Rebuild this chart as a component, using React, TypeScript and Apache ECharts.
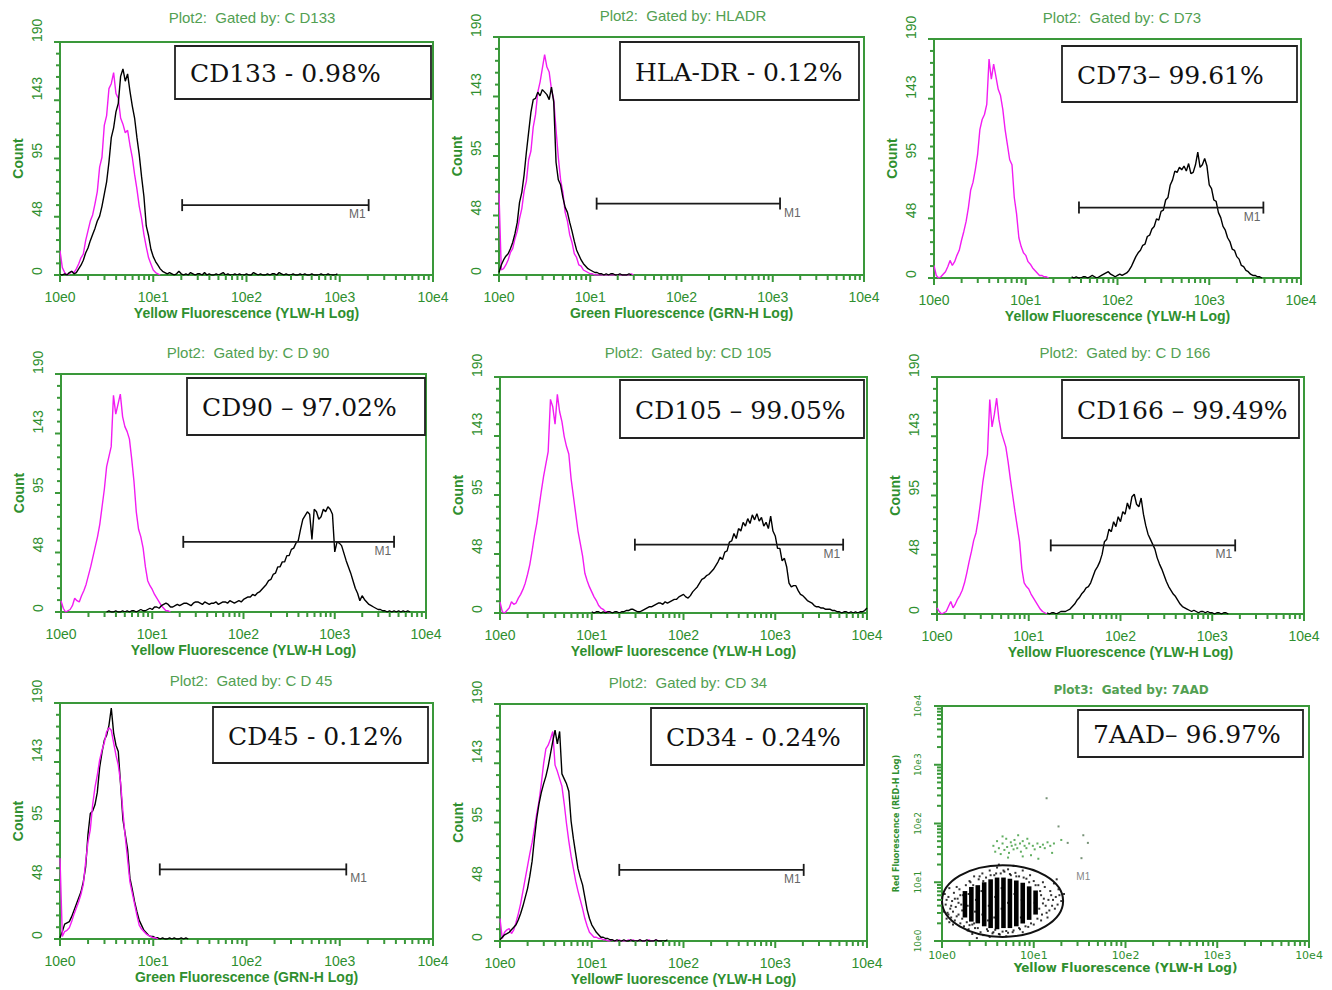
import React, { useEffect, useRef } from "react";
import * as echarts from "echarts";

// ---------- DATA ----------
const STEP = 0.025; // histogram channel width, in decades (log10 units)
const DECADE_LABELS = ["10e0", "10e1", "10e2", "10e3", "10e4"];

// CD133 panel
const cd133Start = 0;
const cd133Control = [20, 6, 2, 0, 1, 3, 2, 5, 9, 14, 17, 28, 36, 44, 49, 58, 68, 88, 96, 122, 130, 152, 156, 165, 148, 144, 128, 123, 116, 118, 106, 96, 82, 70, 56, 46, 33, 23, 14, 9, 4, 2, 1, 0];
const cd133Stained = [0, 0, 1, 0, 2, 3, 1, 2, 5, 8, 12, 18, 22, 28, 33, 38, 44, 48, 56, 66, 76, 92, 112, 120, 133, 140, 162, 168, 158, 164, 150, 138, 128, 112, 98, 80, 64, 40, 32, 21, 15, 11, 8, 5, 3, 2, 1, 2, 1, 0, 1, 3, 1, 0, 1, 0, 2, 1, 0, 1, 1, 0, 2, 0, 1, 0, 0, 1, 0, 1, 2, 0, 1, 0, 0, 1, 0, 1, 0, 0, 1, 0, 0, 2, 1, 0, 1, 0, 0, 1, 0, 1, 1, 0, 2, 1, 0, 1, 0, 0, 1, 0, 0, 1, 0, 1, 0, 0, 1, 0, 0, 0, 1, 0, 0, 1, 0, 0, 0, 1];

// HLA-DR panel
const hladrStart = 0;
const hladrControl = [65, 4, 5, 8, 12, 18, 21, 29, 35, 45, 53, 67, 75, 92, 99, 118, 128, 146, 154, 165, 176, 166, 162, 148, 140, 116, 94, 76, 66, 50, 43, 32, 26, 17, 14, 8, 7, 4, 3, 2, 1, 1, 0, 0, 0, 0, 0, 0, 0, 0, 0, 0, 0, 0, 0, 0, 0, 0, 1, 0];
const hladrStained = [2, 8, 12, 15, 17, 21, 26, 33, 42, 58, 66, 80, 98, 114, 130, 140, 141, 146, 143, 148, 146, 144, 140, 150, 138, 90, 76, 72, 62, 54, 50, 42, 35, 27, 20, 16, 12, 9, 7, 5, 4, 3, 2, 2, 1, 1, 0, 1, 0, 1, 1, 0, 0, 1, 0, 0, 0, 1, 0];

// CD73 panel
const cd73ControlStart = 0;
const cd73Control = [10, 2, 0, 1, 3, 5, 9, 14, 10, 13, 18, 22, 30, 37, 45, 56, 70, 76, 86, 98, 118, 126, 130, 138, 174, 158, 170, 160, 150, 145, 134, 118, 106, 94, 90, 64, 51, 32, 25, 20, 18, 13, 11, 8, 6, 4, 2, 2, 1, 1, 0];
const cd73StainedStart = 1.5;
const cd73Stained = [1, 0, 1, 0, 0, 1, 1, 0, 1, 2, 1, 0, 1, 2, 3, 4, 5, 3, 2, 1, 2, 3, 2, 3, 4, 6, 9, 13, 17, 20, 22, 26, 27, 33, 34, 39, 41, 47, 46, 53, 54, 62, 64, 74, 78, 85, 84, 88, 86, 89, 85, 91, 83, 84, 90, 100, 88, 90, 95, 89, 74, 71, 62, 61, 52, 48, 41, 38, 32, 29, 23, 22, 17, 15, 10, 9, 6, 5, 3, 2, 2, 1, 1, 0];

// CD90 panel
const cd90ControlStart = 0;
const cd90Control = [9, 3, 0, 1, 2, 5, 11, 9, 8, 13, 17, 22, 29, 36, 44, 52, 60, 70, 84, 98, 116, 124, 132, 173, 158, 166, 174, 156, 148, 144, 138, 122, 104, 80, 66, 60, 51, 36, 25, 21, 18, 14, 11, 8, 5, 3, 1, 1, 0];
const cd90StainedStart = 0.5;
const cd90Stained = [0, 1, 0, 0, 1, 0, 0, 1, 0, 1, 0, 1, 1, 0, 1, 2, 1, 1, 2, 3, 2, 4, 4, 3, 5, 6, 7, 6, 4, 4, 5, 6, 5, 6, 7, 7, 6, 5, 7, 8, 8, 7, 6, 8, 7, 6, 7, 7, 8, 6, 7, 8, 8, 7, 9, 8, 7, 8, 9, 8, 10, 11, 12, 12, 14, 13, 15, 16, 18, 20, 22, 25, 26, 30, 31, 36, 36, 40, 40, 45, 45, 50, 51, 55, 57, 66, 74, 77, 80, 78, 58, 82, 80, 74, 76, 82, 80, 84, 82, 78, 48, 56, 55, 53, 47, 41, 36, 31, 25, 19, 15, 9, 13, 10, 8, 6, 5, 4, 3, 2, 2, 1, 1, 0, 1, 0, 1, 0, 1, 0, 1, 0, 1, 0];

// CD105 panel
const cd105ControlStart = 0;
const cd105Control = [9, 1, 0, 2, 4, 9, 7, 8, 12, 15, 19, 24, 31, 39, 50, 62, 72, 85, 98, 110, 120, 130, 172, 166, 152, 176, 162, 154, 142, 134, 128, 108, 94, 80, 66, 56, 46, 32, 26, 21, 17, 13, 10, 6, 4, 3, 1, 1, 0];
const cd105StainedStart = 1.0;
const cd105Stained = [1, 0, 1, 1, 0, 1, 0, 1, 1, 0, 1, 1, 0, 1, 1, 2, 2, 3, 3, 2, 1, 1, 2, 3, 4, 5, 5, 6, 7, 8, 8, 7, 9, 8, 9, 10, 11, 11, 13, 14, 15, 13, 12, 14, 17, 19, 21, 24, 27, 28, 30, 31, 33, 35, 38, 41, 45, 43, 49, 50, 57, 58, 64, 60, 68, 66, 73, 70, 76, 72, 79, 75, 80, 74, 77, 70, 73, 68, 78, 66, 62, 52, 52, 42, 44, 37, 24, 21, 22, 22, 18, 15, 14, 12, 10, 9, 8, 6, 5, 5, 4, 4, 3, 3, 3, 2, 2, 1, 1, 0, 1, 1, 0, 1, 0, 1, 0, 1, 1, 2, 4];

// CD166 panel
const cd166ControlStart = 0;
const cd166Control = [5, 2, 0, 1, 2, 6, 10, 5, 8, 12, 15, 19, 25, 33, 42, 50, 59, 65, 76, 90, 106, 118, 128, 172, 150, 160, 173, 156, 146, 140, 134, 122, 108, 95, 82, 70, 58, 36, 25, 22, 20, 16, 13, 10, 7, 4, 2, 1, 0];
const cd166StainedStart = 1.2;
const cd166Stained = [1, 0, 1, 1, 0, 1, 2, 2, 2, 3, 4, 6, 8, 11, 13, 16, 18, 21, 22, 25, 30, 35, 38, 42, 48, 58, 60, 68, 66, 74, 70, 78, 74, 82, 80, 89, 84, 94, 96, 88, 86, 93, 80, 71, 64, 60, 56, 52, 45, 40, 36, 31, 26, 22, 19, 16, 14, 11, 8, 6, 5, 4, 3, 2, 3, 2, 1, 2, 2, 1, 2, 1, 1, 0, 1, 1, 0, 1, 1, 0];

// CD45 panel
const cd45Start = 0;
const cd45Control = [65, 2, 6, 7, 9, 14, 20, 25, 30, 36, 44, 62, 78, 88, 108, 122, 132, 144, 152, 158, 167, 170, 168, 158, 148, 140, 126, 102, 82, 64, 46, 37, 28, 19, 11, 8, 6, 4, 3, 2, 1, 1, 0];
const cd45Stained = [1, 6, 12, 13, 14, 18, 23, 28, 33, 38, 46, 58, 84, 101, 103, 108, 118, 138, 150, 160, 164, 172, 186, 166, 156, 151, 124, 96, 84, 72, 49, 40, 30, 22, 15, 11, 7, 5, 3, 2, 2, 1, 1, 0, 1, 0, 0, 1, 0, 1, 0, 0, 1, 0, 1, 0];

// CD34 panel
const cd34Start = 0;
const cd34Control = [18, 2, 7, 9, 10, 6, 9, 15, 22, 30, 40, 50, 60, 70, 79, 90, 102, 112, 126, 142, 154, 157, 162, 168, 141, 136, 130, 124, 110, 94, 80, 68, 58, 48, 40, 33, 26, 18, 12, 7, 5, 3, 3, 2, 2, 1, 1, 0, 0, 1, 0, 0, 1, 0, 0, 0, 1, 0, 1, 0, 0, 1, 0, 0, 0, 1, 0, 0, 1, 0];
const cd34Stained = [1, 3, 5, 6, 7, 9, 11, 13, 17, 22, 28, 35, 42, 52, 64, 82, 98, 110, 119, 126, 132, 140, 150, 160, 169, 158, 168, 134, 130, 126, 120, 96, 82, 70, 58, 51, 45, 35, 25, 18, 13, 10, 7, 5, 3, 3, 2, 2, 1, 1, 0, 1, 0, 0, 1, 0, 0, 1, 0, 0, 0, 1, 0, 0, 1, 0, 0, 0, 1, 0, 0, 0, 0, 1];

// M1 marker gates: [from (log10), to (log10), count level]
const m1Gates = [
  [1.31, 3.31, 57],
  [1.07, 3.08, 57],
  [1.58, 3.59, 56],
  [1.34, 3.65, 56],
  [1.47, 3.74, 55],
  [1.24, 3.25, 55],
  [1.07, 3.07, 56],
  [1.3, 3.31, 57],
];

const percentLabels = ["CD133 - 0.98%", "HLA-DR - 0.12%", "CD73– 99.61%", "CD90 – 97.02%", "CD105 – 99.05%", "CD166 – 99.49%", "CD45 - 0.12%", "CD34 - 0.24%", "7AAD– 96.97%"];
const plotTitles = ["Plot2:  Gated by: C D133", "Plot2:  Gated by: HLADR", "Plot2:  Gated by: C D73", "Plot2:  Gated by: C D 90", "Plot2:  Gated by: CD 105", "Plot2:  Gated by: C D 166", "Plot2:  Gated by: C D 45", "Plot2:  Gated by: CD 34", "Plot3:  Gated by: 7AAD"];
const xAxisNames = ["Yellow Fluorescence (YLW-H Log)", "Green Fluorescence (GRN-H Log)", "Yellow Fluorescence (YLW-H Log)", "Yellow Fluorescence (YLW-H Log)", "YellowF luorescence (YLW-H Log)", "Yellow Fluorescence (YLW-H Log)", "Green Fluorescence (GRN-H Log)", "YellowF luorescence (YLW-H Log)", "Yellow Fluorescence (YLW-H Log)"];
const yAxisNames = ["Count", "Count", "Count", "Count", "Count", "Count", "Count", "Count", "Red Fluorescence (RED-H Log)"];

// 7AAD dot plot (log10 x, log10 y)
const aadDenseColumns = [
  [0.25, 0.4, 0.85],
  [0.32, 0.33, 0.92],
  [0.39, 0.3, 0.95],
  [0.46, 0.25, 1.0],
  [0.53, 0.22, 1.05],
  [0.6, 0.2, 1.08],
  [0.67, 0.22, 1.08],
  [0.74, 0.22, 1.06],
  [0.81, 0.25, 1.03],
  [0.88, 0.3, 0.99],
  [0.95, 0.36, 0.93],
  [1.02, 0.45, 0.86],
];
const aadBlackDots = [
  [0.04, 0.62], [0.06, 0.48], [0.07, 0.75], [0.09, 0.55], [0.1, 0.4], [0.11, 0.68], [0.13, 0.82], [0.14, 0.35], [0.15, 0.58], [0.17, 0.72],
  [0.18, 0.45], [0.19, 0.88], [0.2, 0.3], [0.21, 0.62], [0.22, 0.52], [0.23, 0.78], [0.24, 0.25], [0.05, 0.7], [0.08, 0.32], [0.16, 0.92],
  [0.28, 0.18], [0.33, 0.12], [0.36, 0.22], [0.42, 0.15], [0.45, 0.1], [0.5, 0.17], [0.55, 0.13], [0.58, 0.19], [0.63, 0.11], [0.66, 0.16],
  [0.72, 0.14], [0.78, 0.18], [0.85, 0.2], [0.88, 0.15], [0.94, 0.24], [1.0, 0.28], [0.3, 0.27], [0.52, 0.07], [0.7, 0.08], [0.38, 0.05],
  [0.3, 1.02], [0.35, 1.1], [0.4, 1.05], [0.44, 1.15], [0.48, 1.08], [0.52, 1.2], [0.57, 1.12], [0.6, 1.25], [0.64, 1.15], [0.68, 1.18],
  [0.72, 1.22], [0.75, 1.12], [0.8, 1.16], [0.84, 1.1], [0.88, 1.2], [0.92, 1.06], [0.96, 1.12], [1.0, 1.02], [0.62, 1.3], [0.78, 1.28],
  [1.06, 0.55], [1.08, 0.78], [1.1, 0.64], [1.12, 0.92], [1.14, 0.48], [1.16, 0.7], [1.18, 0.85], [1.2, 0.6], [1.22, 0.98], [1.24, 0.75],
  [1.27, 0.88], [1.3, 0.68], [1.1, 1.0], [1.15, 0.4], [1.08, 0.35], [1.25, 1.05], [1.33, 0.8], [1.05, 0.95],
  [0.28, 0.6], [0.29, 0.8], [0.36, 0.5], [0.37, 0.7], [0.44, 0.45], [0.43, 0.85], [0.51, 0.6], [0.5, 0.35], [0.58, 0.75], [0.57, 0.4],
  [0.65, 0.55], [0.65, 0.9], [0.72, 0.65], [0.73, 0.35], [0.8, 0.5], [0.79, 0.8], [0.87, 0.7], [0.86, 0.4], [0.94, 0.55], [0.94, 0.85],
  [1.01, 0.65], [0.26, 0.95], [0.33, 0.28], [0.46, 0.95],
  [0.02, 0.5], [0.03, 0.8], [0.05, 0.38], [0.08, 0.9], [0.12, 0.5], [0.12, 0.28], [0.16, 0.42], [0.18, 0.65], [0.2, 0.78], [0.22, 0.38],
  [0.24, 0.68], [0.26, 0.5], [0.27, 0.32], [0.29, 0.2], [0.31, 1.0], [0.34, 0.95], [0.35, 0.3], [0.39, 0.22], [0.41, 1.1], [0.45, 1.02],
  [0.49, 0.2], [0.53, 1.12], [0.56, 0.15], [0.59, 1.15], [0.62, 0.12], [0.67, 1.2], [0.7, 0.17], [0.74, 1.14], [0.77, 0.15], [0.81, 1.1],
  [0.84, 0.22], [0.89, 1.08], [0.91, 0.25], [0.95, 1.0], [0.97, 0.3], [1.02, 0.95], [1.04, 0.38], [1.07, 0.85], [1.09, 0.45], [1.11, 0.72],
  [1.13, 0.6], [1.17, 0.52], [1.19, 0.78], [1.21, 0.7], [1.23, 0.55], [1.26, 0.62], [1.28, 0.78], [0.1, 0.6], [0.14, 0.72], [0.07, 0.45],
];
const aadGreenDots = [
  [0.56, 1.62], [0.58, 1.52], [0.6, 1.7], [0.62, 1.58], [0.64, 1.48], [0.66, 1.66], [0.68, 1.55], [0.7, 1.74], [0.71, 1.6], [0.73, 1.5],
  [0.75, 1.68], [0.76, 1.62], [0.78, 1.56], [0.79, 1.72], [0.8, 1.64], [0.82, 1.58], [0.83, 1.8], [0.85, 1.66], [0.86, 1.52], [0.88, 1.7],
  [0.9, 1.62], [0.92, 1.58], [0.93, 1.74], [0.95, 1.66], [0.97, 1.46], [0.99, 1.62], [1.01, 1.56], [1.04, 1.66], [1.07, 1.6], [1.1, 1.64],
  [1.12, 1.58], [1.15, 1.68], [1.18, 1.62], [1.22, 1.66], [1.05, 1.4], [0.72, 1.42], [0.66, 1.78], [0.88, 1.44], [1.2, 1.5], [1.3, 1.72],
];
const aadOutlierDots = [[1.14, 2.43], [1.27, 1.95], [1.54, 1.8], [1.59, 1.67], [1.52, 1.41], [1.37, 1.67]];
const aadGate = [[0.66, 0.68, 0.66, 0.61]]; // centre x, centre y, radius x, radius y (decades)
const aadGateLabel = [[1.54, 1.09]];

// ---------- LAYOUT ----------
const GRIDS = [
  [60, 42, 373, 233], [499, 37, 365, 238], [934, 39, 367, 239],
  [61, 374, 365, 238], [500, 377, 367, 236], [937, 377, 367, 237],
  [60, 703, 373, 236], [500, 704, 367, 237], [942, 706, 367, 235],
];
const TITLE_POS = [[252, 17], [683, 15], [1122, 17], [248, 352], [688, 352], [1125, 352], [251, 680], [688, 682], [1131, 690]];
const BOXES = [
  [175, 46, 256, 53], [620, 42, 239, 58], [1062, 46, 235, 56],
  [187, 378, 238, 57], [620, 380, 244, 58], [1062, 380, 237, 58],
  [213, 707, 215, 56], [651, 708, 213, 57], [1078, 710, 225, 47],
];
const M1_LABEL_AFTER = [false, true, false, false, false, false, true, false];

const GREEN = "#3a983a";
const GREEN_TEXT = "#2f8f2f";
const TITLE_GREEN = "#52a052";
const MAGENTA = "#f21cf2";
const SANS = '"Liberation Sans", Arial, sans-serif';
const DEJAVU = '"DejaVu Sans", sans-serif';

const hist = (start: number, counts: number[]) => counts.map((c, i) => [start + i * STEP, c]);

// axis tick marks: [x, y, length px]; x ticks sit on y = 0, y ticks on x = 0
const X_TICKS: number[][] = [];
for (let d = 0; d <= 4; d++) {
  X_TICKS.push([d, 0, 7]);
  if (d < 4) for (let k = 2; k <= 9; k++) X_TICKS.push([d + Math.log10(k), 0, 5]);
}
const COUNT_Y_TICKS: number[][] = [];
for (let k = 0; k <= 20; k++) COUNT_Y_TICKS.push([0, k * 9.5, k % 5 === 0 ? 6 : 4]);
const LOG_Y_TICKS: number[][] = X_TICKS.map(([v, , l]) => [0, v, l === 7 ? 8 : 5]);

const panelSeries = [
  { control: hist(cd133Start, cd133Control), stained: hist(cd133Start, cd133Stained), controlOnTop: false },
  { control: hist(hladrStart, hladrControl), stained: hist(hladrStart, hladrStained), controlOnTop: false },
  { control: hist(cd73ControlStart, cd73Control), stained: hist(cd73StainedStart, cd73Stained), controlOnTop: false },
  { control: hist(cd90ControlStart, cd90Control), stained: hist(cd90StainedStart, cd90Stained), controlOnTop: false },
  { control: hist(cd105ControlStart, cd105Control), stained: hist(cd105StainedStart, cd105Stained), controlOnTop: false },
  { control: hist(cd166ControlStart, cd166Control), stained: hist(cd166StainedStart, cd166Stained), controlOnTop: false },
  { control: hist(cd45Start, cd45Control), stained: hist(cd45Start, cd45Stained), controlOnTop: true },
  { control: hist(cd34Start, cd34Control), stained: hist(cd34Start, cd34Stained), controlOnTop: false },
];

function tickSeries(i: number, ticks: number[][], dir: "x" | "y") {
  return {
    type: "custom", xAxisIndex: i, yAxisIndex: i, data: ticks, silent: true, z: 6, clip: false,
    encode: { x: 0, y: 1 },
    renderItem: (_p: any, api: any) => {
      const p = api.coord([api.value(0), api.value(1)]);
      const len = api.value(2);
      const style = { stroke: GREEN, lineWidth: 2, fill: "none" };
      if (dir === "x") return { type: "line", shape: { x1: p[0], y1: p[1], x2: p[0], y2: p[1] + len }, style };
      return { type: "line", shape: { x1: p[0] - len, y1: p[1], x2: p[0], y2: p[1] }, style };
    },
  };
}

function buildOption() {
  const grid = GRIDS.map(([left, top, width, height]) => ({
    left, top, width, height, show: true, borderColor: GREEN, borderWidth: 2, backgroundColor: "transparent",
  }));

  const xAxis: any[] = [];
  const yAxis: any[] = [];
  for (let i = 0; i < 9; i++) {
    const dot = i === 8;
    xAxis.push({
      type: "value", gridIndex: i, min: 0, max: 4, interval: 1, position: "bottom",
      name: xAxisNames[i], nameLocation: "middle", nameGap: dot ? 18 : 31,
      nameTextStyle: { color: GREEN_TEXT, fontWeight: "bold", fontSize: dot ? 12 : 14, fontFamily: dot ? DEJAVU : SANS },
      axisLine: { onZero: false, lineStyle: { color: GREEN, width: 2 } },
      axisTick: { show: false },
      axisLabel: {
        formatter: (v: number) => DECADE_LABELS[Math.round(v)], color: GREEN_TEXT,
        fontSize: dot ? 11 : 14, margin: dot ? 9 : 15, fontFamily: dot ? DEJAVU : SANS,
      },
      splitLine: { show: false },
    });
  }
  for (let i = 0; i < 8; i++) {
    yAxis.push({
      type: "value", gridIndex: i, min: 0, max: 190, interval: 47.5, position: "left",
      name: yAxisNames[i], nameLocation: "middle", nameGap: 35, nameRotate: 90,
      nameTextStyle: { color: GREEN_TEXT, fontWeight: "bold", fontSize: 14, fontFamily: SANS },
      axisLine: { onZero: false, lineStyle: { color: GREEN, width: 2 } },
      axisTick: { show: false },
      axisLabel: { rotate: 90, align: "left", formatter: (v: number) => String(Math.round(v)), color: GREEN_TEXT, fontSize: 14, margin: 16, fontFamily: SANS },
      splitLine: { show: false },
    });
  }
  yAxis.push({
    type: "value", gridIndex: 8, min: 0, max: 4, interval: 1, position: "left",
    name: yAxisNames[8], nameLocation: "middle", nameGap: 42, nameRotate: 90,
    nameTextStyle: { color: GREEN_TEXT, fontWeight: "bold", fontSize: 8, fontFamily: DEJAVU },
    axisLine: { onZero: false, lineStyle: { color: GREEN, width: 2 } },
    axisTick: { show: false },
    axisLabel: { rotate: 90, formatter: (v: number) => DECADE_LABELS[Math.round(v)], color: GREEN_TEXT, fontSize: 9, margin: 20, fontFamily: DEJAVU },
    splitLine: { show: false },
  });

  const series: any[] = [];
  for (let i = 0; i < 9; i++) {
    series.push(tickSeries(i, X_TICKS, "x"));
    series.push(tickSeries(i, i === 8 ? LOG_Y_TICKS : COUNT_Y_TICKS, "y"));
  }

  panelSeries.forEach((p, i) => {
    const control = {
      type: "line", xAxisIndex: i, yAxisIndex: i, data: p.control, showSymbol: false, symbol: "none",
      lineStyle: { color: MAGENTA, width: 1.4 }, itemStyle: { color: MAGENTA }, silent: true, clip: true,
    };
    const stained = {
      type: "line", xAxisIndex: i, yAxisIndex: i, data: p.stained, showSymbol: false, symbol: "none",
      lineStyle: { color: "#000", width: 1.4 }, itemStyle: { color: "#000" }, silent: true, clip: true,
    };
    if (p.controlOnTop) series.push(stained, control);
    else series.push(control, stained);

    const after = M1_LABEL_AFTER[i];
    series.push({
      type: "custom", xAxisIndex: i, yAxisIndex: i, data: [m1Gates[i]], encode: { x: [0, 1], y: 2 }, silent: true, z: 5,
      renderItem: (_params: any, api: any) => {
        const a = api.coord([api.value(0), api.value(2)]);
        const b = api.coord([api.value(1), api.value(2)]);
        const st = { stroke: "#1a1a1a", lineWidth: 1.8 };
        return {
          type: "group",
          children: [
            { type: "line", shape: { x1: a[0], y1: a[1], x2: b[0], y2: b[1] }, style: st },
            { type: "line", shape: { x1: a[0], y1: a[1] - 6, x2: a[0], y2: a[1] + 6 }, style: st },
            { type: "line", shape: { x1: b[0], y1: b[1] - 6, x2: b[0], y2: b[1] + 6 }, style: st },
            {
              type: "text", x: after ? b[0] + 4 : b[0] - 3, y: b[1] + 3,
              style: { text: "M1", fill: "#666", font: "12px " + SANS, align: after ? "left" : "right", verticalAlign: "top", textAlign: after ? "left" : "right", textVerticalAlign: "top" },
            },
          ],
        };
      },
    });
  });

  // 7AAD dot plot
  series.push({
    type: "custom", xAxisIndex: 8, yAxisIndex: 8, data: aadDenseColumns, encode: { x: 0, y: [1, 2] }, silent: true,
    renderItem: (_params: any, api: any) => {
      const top = api.coord([api.value(0), api.value(2)]);
      const bot = api.coord([api.value(0), api.value(1)]);
      return { type: "rect", shape: { x: top[0] - 2.3, y: top[1], width: 4.6, height: bot[1] - top[1] }, style: { fill: "#000" } };
    },
  });
  series.push({
    type: "scatter", xAxisIndex: 8, yAxisIndex: 8, data: aadBlackDots, symbol: "rect", symbolSize: 2, itemStyle: { color: "#000" }, silent: true,
  });
  series.push({
    type: "scatter", xAxisIndex: 8, yAxisIndex: 8, data: aadGreenDots, symbol: "rect", symbolSize: 2, itemStyle: { color: "#3a9a3a" }, silent: true,
  });
  series.push({
    type: "scatter", xAxisIndex: 8, yAxisIndex: 8, data: aadOutlierDots, symbol: "rect", symbolSize: 2, itemStyle: { color: "#557755" }, silent: true,
  });
  series.push({
    type: "custom", xAxisIndex: 8, yAxisIndex: 8, data: aadGate, encode: { x: 0, y: 1 }, silent: true, z: 4,
    renderItem: (_params: any, api: any) => {
      const c = api.coord([api.value(0), api.value(1)]);
      const s = api.size([api.value(2), api.value(3)]);
      return { type: "ellipse", shape: { cx: c[0], cy: c[1], rx: s[0], ry: s[1] }, style: { fill: "none", stroke: "#111", lineWidth: 2 } };
    },
  });
  series.push({
    type: "scatter", xAxisIndex: 8, yAxisIndex: 8, data: aadGateLabel, symbolSize: 0, silent: true,
    label: { show: true, formatter: "M1", position: "inside", color: "#666", fontSize: 10, fontFamily: SANS },
  });

  const graphic: any[] = [];
  TITLE_POS.forEach(([x, y], i) => {
    const dot = i === 8;
    graphic.push({
      type: "text", x, y, z: 100,
      style: {
        text: plotTitles[i], fill: TITLE_GREEN, font: dot ? "bold 12px " + DEJAVU : "15px " + SANS,
        align: "center", verticalAlign: "middle", textAlign: "center", textVerticalAlign: "middle",
      },
    });
  });
  BOXES.forEach(([x, y, w, h], i) => {
    graphic.push({ type: "rect", z: 100, shape: { x, y, width: w, height: h }, style: { fill: "#fff", stroke: "#222", lineWidth: 1.8 } });
    graphic.push({
      type: "text", z: 101, x: x + 15, y: y + h / 2 + 1,
      style: { text: percentLabels[i], fill: "#111", font: '25px "DejaVu Serif", serif', align: "left", verticalAlign: "middle", textAlign: "left", textVerticalAlign: "middle" },
    });
  });

  return { animation: false, backgroundColor: "#fff", grid, xAxis, yAxis, series, graphic };
}

export default function App() {
  const ref = useRef<HTMLDivElement | null>(null);
  useEffect(() => {
    document.body.style.margin = "0";
    if (!ref.current) return;
    const chart = echarts.init(ref.current, undefined, { renderer: "svg" });
    chart.setOption(buildOption() as any);
    return () => chart.dispose();
  }, []);
  return <div ref={ref} style={{ position: "absolute", left: 0, top: 0, width: 1332, height: 990 }} />;
}
